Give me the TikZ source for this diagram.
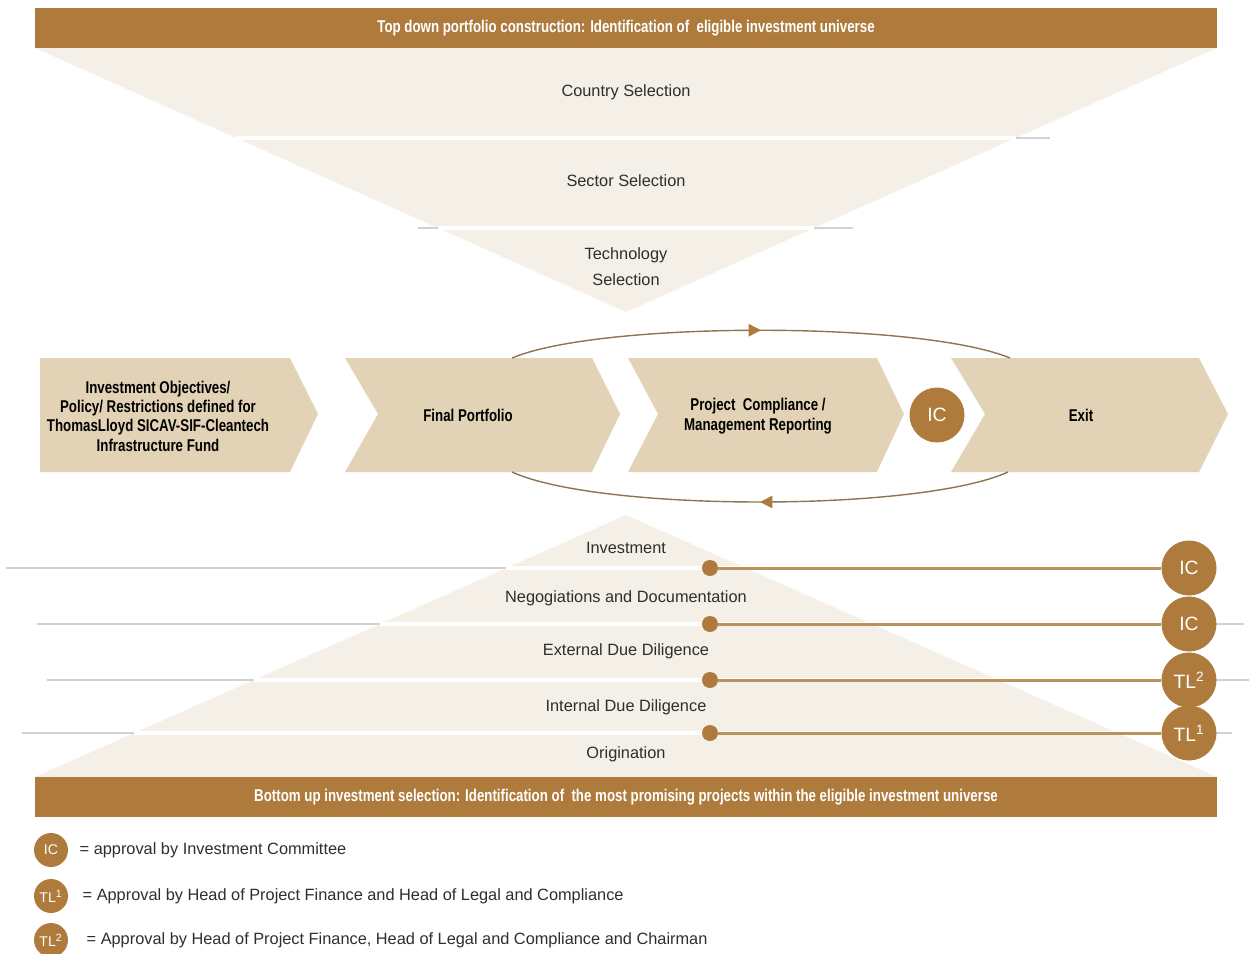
\documentclass[tikz,border=0pt]{standalone}
\usepackage{fontspec}
\setmainfont{Liberation Sans}
\newfontfamily\condfont[FakeStretch=0.78]{Liberation Sans}
\usetikzlibrary{positioning, arrows.meta, decorations.markings, calc}

\definecolor{bronze}{HTML}{AE7B3C}
\definecolor{cream}{HTML}{F4EFE7}
\definecolor{sand}{HTML}{E3D3B6}
\definecolor{rulegrey}{HTML}{D2D2D2}
\definecolor{ink}{HTML}{2E2E2E}
\definecolor{arcbrown}{HTML}{8C7552}
\definecolor{linkbrown}{HTML}{B8935E}

\tikzset{
  banner/.style={fill=bronze, minimum width=23.64cm, minimum height=0.8cm, inner sep=0pt,
    text=white, font=\condfont\bfseries\fontsize{9.7}{11}\selectfont},
  stagetext/.style={text=ink, align=center, inner sep=1pt, font=\fontsize{9.3}{14.7}\selectfont},
  chevtext/.style={text=black, align=center, inner sep=1pt, font=\condfont\bfseries\fontsize{9.7}{11}\selectfont},
  approval/.style={circle, fill=bronze, text=white, minimum size=1.1cm, inner sep=0pt,
    font=\fontsize{11}{12}\selectfont},
  keybadge/.style={circle, fill=bronze, text=white, minimum size=0.68cm, inner sep=0pt,
    font=\fontsize{8}{9}\selectfont},
  keytext/.style={text=ink, inner sep=0pt, font=\fontsize{9.3}{11}\selectfont},
  stagedot/.style={circle, fill=bronze, minimum size=0.32cm, inner sep=0pt},
  gateline/.style={linkbrown, line width=1.7pt},
  cycleline/.style={arcbrown, line width=0.8pt, postaction={decorate},
    decoration={markings, mark=at position 0.5 with {\arrow[bronze]{Triangle[length=7pt, width=7pt]}}}}
}

\begin{document}
\begin{tikzpicture}[x=0.02cm, y=-0.02cm]
\useasboundingbox (0,0) rectangle (1249,954);

% top down funnel
\fill[cream] (35,48) -- (1217,48) -- (626,312) -- cycle;
\draw[rulegrey, line width=0.6pt] (236,138) -- (1050,138);
\draw[rulegrey, line width=0.6pt] (418,228) -- (853,228);
\draw[white, line width=2pt] (236,138) -- (1016,138);
\draw[white, line width=2pt] (438,228) -- (814,228);
\node[banner] (topbar) at (626,28) {Top down portfolio construction: Identification of\ \ eligible investment universe};
\node[stagetext] (country) at (626,92) {Country Selection};
\node[stagetext] (sector) at (626,181) {Sector Selection};
\node[stagetext] (tech) at (626,267) {Technology\\Selection};

% process chevrons
\fill[sand] (40,358) -- (290,358) -- (318,414) -- (290,472) -- (40,472) -- cycle;
\fill[sand] (345,358) -- (592,358) -- (620,414) -- (592,472) -- (345,472) -- (378,414) -- cycle;
\fill[sand] (628,358) -- (877,358) -- (904,414) -- (877,472) -- (628,472) -- (658,414) -- cycle;
\fill[sand] (951,358) -- (1199,358) -- (1228,414) -- (1199,472) -- (951,472) -- (985,414) -- cycle;
\node[chevtext] (fund) at (158,416) {Investment Objectives/\\Policy/ Restrictions defined for\\ThomasLloyd SICAV-SIF-Cleantech\\Infrastructure Fund};
\node[chevtext] (final) at (468,415) {Final Portfolio};
\node[chevtext] (comply) at (758,416) {Project\ \ Compliance /\\Management Reporting};
\node[chevtext] (exit) at (1081,415) {Exit};
\node[approval] (gate0) at (937,415) {IC};

% review cycle
\coordinate (cycTL) at (512,358);
\coordinate (cycTR) at (1010,358);
\coordinate (cycBL) at (512,472);
\coordinate (cycBR) at (1008,472);
\draw[cycleline] (cycTL) .. controls (600,321) and (920,321) .. (cycTR);
\draw[cycleline] (cycBR) .. controls (920,512) and (600,512) .. (cycBL);

% bottom up pyramid
\fill[cream] (626,515) -- (1217,777) -- (35,777) -- cycle;
\foreach \y/\xa/\xb in {568/6/506, 624/37/380, 680/47/254, 733/22/134} {
  \draw[rulegrey, line width=0.6pt] (\xa,\y) -- (\xb,\y);
  \draw[white, line width=2pt] (\xb,\y) -- (1252-\xb,\y);
}
\foreach \y/\xe in {624/1244, 680/1249, 733/1232}
  \draw[rulegrey, line width=0.6pt] (1189,\y) -- (\xe,\y);
\node[banner] (botbar) at (626,797) {Bottom up investment selection: Identification of\ \ the most promising projects within the eligible investment universe};
\node[stagetext] (invest) at (626,548) {Investment};
\node[stagetext] (negot) at (626,598) {Negogiations and Documentation};
\node[stagetext] (extdd) at (626,651) {External Due Diligence};
\node[stagetext] (intdd) at (626,707) {Internal Due Diligence};
\node[stagetext] (orig) at (626,754) {Origination};

% approval gates
\foreach \y/\lab [count=\i] in {568/IC, 624/IC, 680/TL\textsuperscript{2}, 733/TL\textsuperscript{1}} {
  \node[stagedot] (dot\i) at (710,\y) {};
  \node[approval] (gate\i) at (1189,\y) {\lab};
  \draw[gateline] (dot\i) -- (gate\i);
}

% legend
\node[keybadge] (keyIC) at (51,850) {IC};
\node[keytext, right=0.22cm of keyIC] (keyICtext) {= approval by Investment Committee};
\node[keybadge] (keyTLa) at (51,896) {TL\textsuperscript{1}};
\node[keytext, right=0.28cm of keyTLa] (keyTLatext) {= Approval by Head of Project Finance and Head of Legal and Compliance};
\node[keybadge] (keyTLb) at (51,940) {TL\textsuperscript{2}};
\node[keytext, right=0.36cm of keyTLb] (keyTLbtext) {= Approval by Head of Project Finance, Head of Legal and Compliance and Chairman};
\end{tikzpicture}
\end{document}
